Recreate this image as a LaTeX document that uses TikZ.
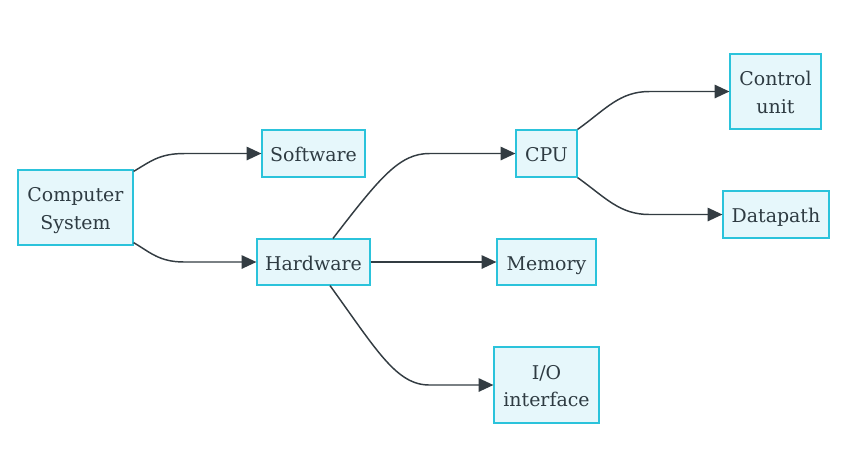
\documentclass[tikz,border=0pt]{standalone}
\usepackage{fontspec}
\setmainfont{DejaVu Serif}
\usetikzlibrary{arrows.meta,calc}
\definecolor{boxfill}{HTML}{E6F7FB}
\definecolor{boxline}{HTML}{2BC3DB}
\definecolor{txt}{HTML}{2E3B42}
\definecolor{edge}{HTML}{333C42}
\begin{document}
\begin{tikzpicture}[x=0.75pt,y=-0.75pt,
  box/.style={draw=boxline,fill=boxfill,line width=0.9pt,inner sep=0pt,align=center,
    text=txt,font=\fontsize{14.2}{20.5}\selectfont},
  one/.style={box,text height=12.6pt,text depth=0pt},
  two/.style={box,text height=32.5pt,text depth=0pt},
  link/.style={draw=edge,line width=1.1pt,-{Triangle[length=11pt,width=10pt]}}]
\useasboundingbox (0,0) rectangle (841,455);
\node[two,minimum width=86.25pt,minimum height=56.25pt] (cs) at (75.5,207.5) {Computer\\System};
\node[one,minimum width=77.25pt,minimum height=35.25pt] (sw) at (313.5,153.5) {Software};
\node[one,minimum width=84.75pt,minimum height=34.5pt] (hw) at (313.5,262) {Hardware};
\node[one,minimum width=45.75pt,minimum height=35.25pt] (cpu) at (546.5,153.5) {CPU};
\node[one,minimum width=74.25pt,minimum height=34.5pt] (mem) at (546.5,262) {Memory};
\node[two,minimum width=78.75pt,minimum height=57pt] (io) at (546.5,385) {I/O\\interface};
\node[two,minimum width=68.25pt,minimum height=56.25pt] (cu) at (775.5,91.5) {Control\\unit};
\node[one,minimum width=79.5pt,minimum height=35.25pt] (dp) at (776,214.5) {Datapath};

\draw[link] ($(cs.north east)+(0,2)$) .. controls ($(cs.north east)+(17,-8)$) and ($(sw.west)+(-102,0)$) .. ($(sw.west)+(-77,0)$) -- (sw.west);
\draw[link] ($(cs.south east)+(0,-3)$) .. controls ($(cs.south east)+(17,7)$) and ($(hw.west)+(-97,0)$) .. ($(hw.west)+(-72,0)$) -- (hw.west);
\draw[link] ($(hw.north)+(19.5,0)$) .. controls ($(hw.north)+(66.5,-61)$) and ($(cpu.west)+(-116,0)$) .. ($(cpu.west)+(-86,0)$) -- (cpu.west);
\draw[link] (hw.east) -- (mem.west);
\draw[link] ($(hw.south)+(16.5,0)$) .. controls ($(hw.south)+(63.5,65)$) and ($(io.west)+(-97,0)$) .. ($(io.west)+(-64,0)$) -- (io.west);
\draw[link] ($(cpu.north east)+(0,0)$) .. controls ($(cpu.north east)+(28,-20)$) and ($(cu.west)+(-110,0)$) .. ($(cu.west)+(-80,0)$) -- (cu.west);
\draw[link] ($(cpu.south east)+(0,0)$) .. controls ($(cpu.south east)+(28,20)$) and ($(dp.west)+(-103,0)$) .. ($(dp.west)+(-73,0)$) -- (dp.west);
\end{tikzpicture}
\end{document}
